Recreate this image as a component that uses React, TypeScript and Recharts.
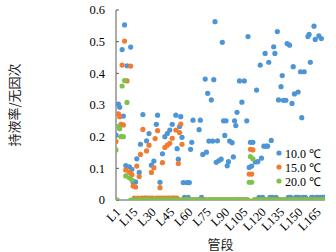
import React from 'react';
import { ScatterChart, Scatter, XAxis, YAxis, Legend, Label } from 'recharts';

// Pipe segments L1 ... L172 (x positions are the segment numbers)
const segmentCount = 172;
const tickLabels = ['L1', 'L15', 'L30', 'L45', 'L60', 'L75', 'L90', 'L105', 'L120', 'L135', 'L150', 'L165'];
const yTicks = [0, 0.1, 0.2, 0.3, 0.4, 0.5, 0.6];
const seriesNames = ['10.0 ℃', '15.0 ℃', '20.0 ℃'];

// liquid holdup at 10.0 ℃ (index 0 = L1)
const holdup10 = [
  0.205, null, 0.303, 0.293, null, 0.475, 0.265, 0.553, 0.109, 0.424,
  null, 0.105, 0.483, 0.097, 0.057, 0, 0.057, 0.13, 0, 0.087,
  0.176, 0, 0.27, 0, 0, 0.187, 0, 0.21, 0, 0.11,
  0, 0.123, 0, 0.239, 0.268, 0, 0.056, 0, 0.146, 0,
  0.2, 0, 0.21, 0, 0.221, 0, 0.239, 0, 0, 0.268,
  0.162, 0.129, 0.232, 0.263, 0.198, 0.055, 0.008, 0, 0.055, 0.008,
  0.055, 0.16, 0.182, 0.252, 0, 0, 0, 0, 0.222, 0.252,
  0.008, 0.144, 0, 0.382, 0.151, 0.337, 0.186, 0, 0.316, 0.186,
  0.38, 0.563, 0.119, 0.187, 0.124, 0, 0.129, 0.498, 0.25, 0.204,
  0.25, 0.108, 0.121, 0.186, 0, 0.181, 0.136, 0.25, 0.235, 0.277,
  0, 0.376, 0, 0.309, 0, 0.376, 0, 0.25, 0.516, 0.103,
  0.182, 0.107, 0.182, 0, 0.12, 0.347, 0.121, 0.008, 0.426, 0.132,
  0.008, 0.17, 0.463, 0.17, 0.17, 0.435, 0.008, 0.188, 0.008, 0.484,
  0.463, 0.008, 0.532, 0.316, 0, 0.358, 0.393, 0.315, 0, 0.315,
  0.494, 0.008, 0.489, 0.008, 0.305, 0.421, 0.335, 0.008, 0.008, 0.341,
  0.008, 0.405, 0.26, 0.008, 0.405, 0.008, 0, 0.516, 0.523, 0.435,
  0.008, 0.008, 0.549, 0.507, 0.008, 0.008, 0.518, 0.008, 0.51, 0.008,
  0.008, 0.008,
];

// liquid holdup at 15.0 ℃
const holdup15 = [
  0.185, null, 0.272, 0.263, 0.239, 0.426, 0.237, 0.502, 0.095, 0.376,
  null, 0.088, 0.423, 0.08, 0.044, 0.006, 0.041, 0.107, 0.006, 0.074,
  0.144, 0.006, 0.223, 0.006, 0.006, 0.155, 0.006, 0.173, 0.006, 0.087,
  0.006, 0.102, 0.194, 0.006, 0.219, 0.006, 0.039, 0.006, 0.118, 0.006,
  0.166, 0.006, 0.173, 0.006, 0.179, 0.006, 0.195, 0.006, 0.006, 0.221,
  0.006, 0.115, 0.213, 0.24, 0.176, 0, 0, 0, 0, 0,
  0, 0, 0, 0, 0, 0, 0, 0, 0, 0,
  0, 0, 0, 0, 0, 0, 0, 0, 0, 0,
  0, 0, 0, 0, 0, 0, 0, 0, 0, 0,
  0, 0, 0, 0, 0, 0, 0, 0, 0, 0,
  0, 0, 0, 0, 0, 0, 0, 0, 0, 0.082,
  0.16, 0.082, 0.158, 0, 0, 0, 0, 0, 0, 0,
  0, 0, 0, 0, 0, 0, 0, 0, 0, 0,
  0, 0, 0, 0, 0, 0, 0, 0, 0, 0,
  0, 0, 0, 0, 0, 0, 0, 0, 0, 0,
  0, 0, 0, 0, 0, 0, 0, 0, 0, 0,
  0, 0, 0, 0, 0, 0, 0, 0, 0, 0,
  0, 0,
];

// liquid holdup at 20.0 ℃
const holdup20 = [
  0.158, 0, 0.232, 0.225, 0.2, 0.36, 0.2, 0.377, 0.076, 0.308,
  null, 0.07, 0, 0.063, 0, 0, 0, 0, 0, 0,
  0, 0, 0, 0, 0, 0, 0, 0, 0, 0,
  0, 0, 0, 0, 0, 0, 0, 0, 0, 0,
  0, 0, 0, 0, 0, 0, 0, 0, 0, 0,
  0, 0, 0, 0, 0, 0, 0, 0, 0, 0,
  0, 0, 0, 0, 0, 0, 0, 0, 0, 0,
  0, 0, 0, 0, 0, 0, 0, 0, 0, 0,
  0, 0, 0, 0, 0, 0, 0, 0, 0, 0,
  0, 0, 0, 0, 0, 0, 0, 0, 0, 0,
  0, 0, 0, 0, 0, 0, 0, 0, 0, 0.056,
  0.137, 0.056, 0.13, 0, 0, 0, 0, 0, 0, 0,
  0, 0, 0, 0, 0, 0, 0, 0, 0, 0,
  0, 0, 0, 0, 0, 0, 0, 0, 0, 0,
  0, 0, 0, 0, 0, 0, 0, 0, 0, 0,
  0, 0, 0, 0, 0, 0, 0, 0, 0, 0,
  0, 0, 0, 0, 0, 0, 0, 0, 0, 0,
  0, 0,
];

const colors = ['#4E95D5', '#F07C30', '#7EC24C'];
const serif = '"Liberation Serif", "Times New Roman", serif';
const cjk = '"Noto Sans CJK SC", sans-serif';

const toPoints = (vals: (number | null)[]) =>
  vals.map((v, k) => ({ x: k + 1, y: v })).filter((p) => p.y !== null);

const tickPositions = tickLabels.map((t) => Number(t.slice(1)));

const Dot = (props: any) => {
  const { cx, cy, fill } = props;
  if (cx == null || cy == null) return null;
  return <circle cx={cx} cy={cy} r={2.6} fill={fill} />;
};

const XTick = (props: any) => {
  const { x, y, payload } = props;
  return (
    <text
      x={0}
      y={0}
      transform={`translate(${x + 2.5},${y + 4}) rotate(-45)`}
      textAnchor="end"
      dominantBaseline="central"
      fontFamily={serif}
      fontSize={12.5}
      fill="#000"
    >
      {`L${payload.value}`}
    </text>
  );
};

const renderLegend = (props: any) => {
  const { payload } = props;
  return (
    <div style={{ fontFamily: serif, fontSize: 12, color: '#000' }}>
      {(payload || []).map((p: any) => (
        <div key={p.value} style={{ display: 'flex', alignItems: 'center', height: 14, whiteSpace: 'nowrap' }}>
          <svg width={6} height={6} style={{ flex: 'none' }}>
            <circle cx={3} cy={3} r={2.6} fill={p.color} />
          </svg>
          <span style={{ marginLeft: 3 }}>{p.value}</span>
        </div>
      ))}
    </div>
  );
};

export default function App() {
  const datasets = [holdup10, holdup15, holdup20].map(toPoints);
  return (
    <div style={{ position: 'absolute', left: 0, top: 0, width: 336, height: 252, background: '#fff' }}>
      <ScatterChart width={336} height={252} margin={{ top: 10, right: 11, bottom: 12, left: 0 }}>
        <XAxis
          type="number"
          dataKey="x"
          domain={[1, segmentCount]}
          ticks={tickPositions}
          interval={0}
          tickLine={false}
          tickSize={4}
          tickMargin={2}
          height={40}
          axisLine={{ stroke: '#595959', strokeWidth: 1 }}
          tick={<XTick />}
          allowDataOverflow
        >
          <Label
            content={(p: any) => {
              const vb = p.viewBox || { x: 56, y: 200, width: 269 };
              return (
                <text
                  x={vb.x + vb.width / 2}
                  y={vb.y + 43}
                  textAnchor="middle"
                  dominantBaseline="central"
                  fontFamily={cjk}
                  fontSize={13}
                  fill="#222"
                >
                  管段
                </text>
              );
            }}
          />
        </XAxis>
        <YAxis
          type="number"
          dataKey="y"
          domain={[0, 0.6]}
          ticks={yTicks}
          width={56}
          tickSize={-3}
          tickMargin={14}
          tickLine={{ stroke: '#595959' }}
          axisLine={{ stroke: '#595959', strokeWidth: 1 }}
          tick={{ fontFamily: serif, fontSize: 12.5, fill: '#000' }}
          allowDataOverflow
        >
          <Label
            content={(p: any) => {
              const vb = p.viewBox || { x: 0, y: 10, height: 190 };
              const cy = vb.y + vb.height / 2;
              return (
                <text
                  x={13}
                  y={cy}
                  transform={`rotate(-90, 13, ${cy})`}
                  textAnchor="middle"
                  dominantBaseline="central"
                  fontFamily={cjk}
                  fontSize={13}
                  fill="#222"
                >
                  持液率/无因次
                </text>
              );
            }}
          />
        </YAxis>
        <Legend
          layout="vertical"
          verticalAlign="top"
          align="left"
          content={renderLegend}
          wrapperStyle={{ position: 'absolute', left: 276, top: 146, width: 60 }}
        />
        {datasets.map((d, k) => (
          <Scatter
            key={seriesNames[k]}
            name={seriesNames[k]}
            data={d}
            fill={colors[k]}
            shape={<Dot />}
            isAnimationActive={false}
          />
        ))}
      </ScatterChart>
    </div>
  );
}
